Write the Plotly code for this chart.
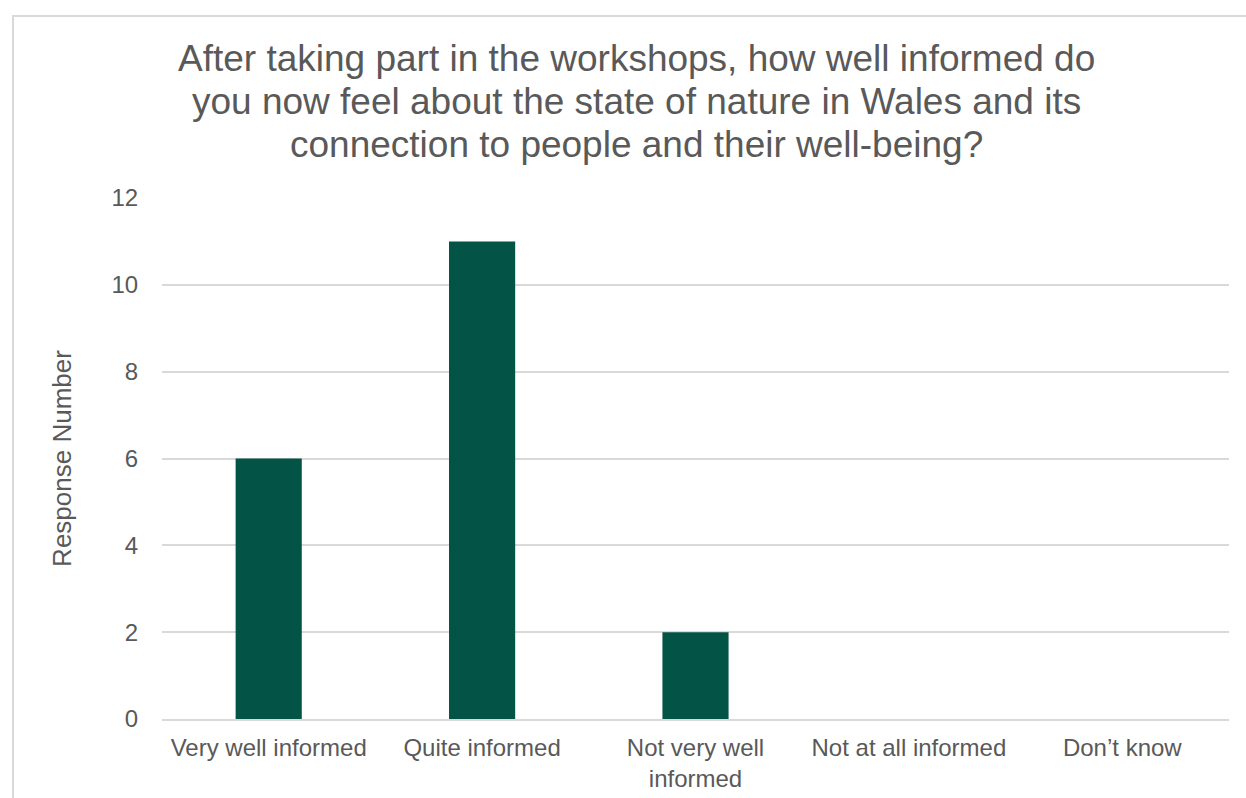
import plotly.graph_objects as go

# Survey responses
categories = ["Very well informed", "Quite informed", "Not very well<br>informed",
              "Not at all informed", "Don’t know"]
responses = [6, 11, 2, 0, 0]
y_ticks = [0, 2, 4, 6, 8, 10, 12]

title_lines = [
    "After taking part in the workshops, how well informed do",
    "you now feel about the state of nature in Wales and its",
    "connection to people and their well-being?",
]

W, H = 1246, 798
L, R, T, B = 162, 17, 198, 79

fig = go.Figure(
    go.Bar(
        x=categories,
        y=responses,
        marker=dict(color="#035446", line=dict(width=0)),
        width=0.31,
        hoverinfo="x+y",
    )
)

grey = "#595959"
font_family = "Liberation Sans, Arial, sans-serif"

def px_x(p):
    return (p - L) / (W - L - R)

def px_y(p):
    return (H - B - p) / (H - T - B)

# title, one annotation per line for tighter line spacing
title_annotations = [
    dict(
        text=line,
        xref="paper", yref="paper",
        x=px_x(636), y=px_y(59 + 42.5 * i),
        xanchor="center", yanchor="middle",
        showarrow=False,
        font=dict(size=37, color=grey, family=font_family),
    )
    for i, line in enumerate(title_lines)
]

fig.update_layout(
    width=W,
    height=H,
    margin=dict(l=L, r=R, t=T, b=B, autoexpand=False),
    paper_bgcolor="white",
    plot_bgcolor="white",
    showlegend=False,
    font=dict(family=font_family, color=grey, size=24),
    xaxis=dict(
        automargin=False,
        showgrid=False,
        showline=True,
        linecolor="#D9D9D9",
        linewidth=1.5,
        ticks="outside",
        ticklen=6,
        tickcolor="rgba(0,0,0,0)",
        tickfont=dict(size=24, color=grey),
        zeroline=False,
    ),
    yaxis=dict(
        automargin=False,
        range=[0, 12],
        tickvals=y_ticks,
        showgrid=True,
        gridcolor="#D9D9D9",
        gridwidth=1.5,
        zeroline=False,
        showline=False,
        ticks="outside",
        ticklen=18,
        tickcolor="rgba(0,0,0,0)",
        tickfont=dict(size=24, color=grey),
        title=dict(text="Response Number", font=dict(size=26, color=grey), standoff=32),
    ),
    annotations=title_annotations,
    shapes=[
        dict(
            type="rect",
            xref="paper", yref="paper",
            x0=px_x(13), x1=px_x(W + 5),
            y0=px_y(H + 5), y1=px_y(16),
            line=dict(color="#D9D9D9", width=2),
            fillcolor="rgba(0,0,0,0)",
            layer="below",
        )
    ],
)

fig.write_html("out.html")
